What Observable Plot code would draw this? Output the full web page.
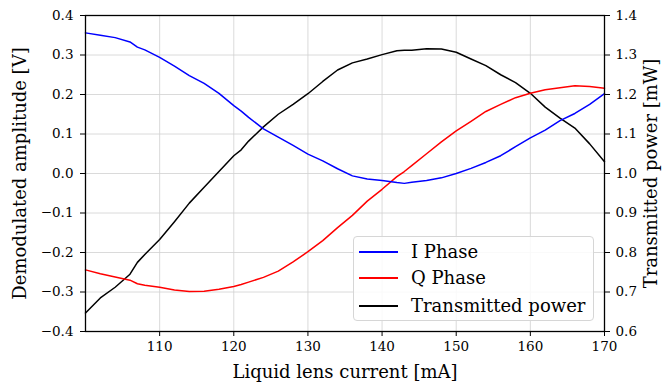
<!DOCTYPE html>
<html>
<head>
<meta charset="utf-8">
<script src="https://cdn.jsdelivr.net/npm/d3@7"></script>
<script src="https://cdn.jsdelivr.net/npm/@observablehq/plot@0.6"></script>
<style>
  body { margin: 0; background: #fff; }
  #wrap { position: relative; width: 662px; height: 385px; font-family: "DejaVu Serif", serif; }
  #legend { position: absolute; left: 353px; top: 236px; width: 241px; height: 85px;
    border: 1px solid #d6d6d6; border-radius: 4px; background: rgba(255,255,255,0.85); box-sizing: border-box; }
  .row { position: absolute; left: 0; width: 100%; height: 22px; font-size: 18px; line-height: 22px; color: #000; }
  .row .sw { position: absolute; left: 5px; top: 10px; width: 39px; height: 1.6px; }
  .row .lb { position: absolute; left: 57px; top: 0; white-space: nowrap; }
</style>
</head>
<body>
<div id="wrap"></div>
<script>
const current = [100,102,104,106,107,108,110,112,114,116,118,120,121,122,124,126,128,130,132,134,136,138,140,142,143,144,146,148,150,152,154,156,158,160,162,164,166,168,170];
const iPhase = [0.356,0.350,0.344,0.333,0.320,0.313,0.294,0.272,0.248,0.228,0.203,0.172,0.158,0.142,0.113,0.092,0.071,0.049,0.032,0.012,-0.006,-0.014,-0.018,-0.023,-0.025,-0.022,-0.018,-0.011,0.000,0.013,0.028,0.045,0.068,0.090,0.110,0.134,0.152,0.175,0.202];
const qPhase = [-0.244,-0.254,-0.262,-0.270,-0.279,-0.283,-0.288,-0.295,-0.299,-0.298,-0.293,-0.286,-0.281,-0.275,-0.263,-0.247,-0.224,-0.198,-0.170,-0.137,-0.106,-0.070,-0.040,-0.008,0.005,0.020,0.050,0.080,0.108,0.132,0.157,0.175,0.192,0.203,0.212,0.217,0.222,0.220,0.216];
const power = [0.647,0.685,0.712,0.745,0.775,0.795,0.833,0.878,0.925,0.965,1.005,1.045,1.060,1.082,1.118,1.150,1.175,1.202,1.233,1.262,1.280,1.290,1.301,1.311,1.312,1.312,1.316,1.315,1.307,1.290,1.273,1.250,1.230,1.203,1.168,1.140,1.115,1.075,1.030];

const xTicks = [110,120,130,140,150,160,170];
const yTicks = [-0.4,-0.3,-0.2,-0.1,0,0.1,0.2,0.3,0.4];
const y2Ticks = [0.6,0.7,0.8,0.9,1.0,1.1,1.2,1.3,1.4];
const y2Offset = 1.0; // right axis value = left value + offset
const seriesNames = ["I Phase","Q Phase","Transmitted power"];
const seriesColors = ["#0000ff","#ff0000","#000000"];
const xLabel = "Liquid lens current [mA]";
const yLabel = "Demodulated amplitude [V]";
const y2Label = "Transmitted power [mW]";

const fmt = d => d.toFixed(1).replace("-", "\u2212");
const iData = current.map((c, k) => ({c, v: iPhase[k]}));
const qData = current.map((c, k) => ({c, v: qPhase[k]}));
const pData = current.map((c, k) => ({c, v: power[k] - y2Offset}));

const chart = Plot.plot({
  width: 662, height: 385,
  marginLeft: 85, marginRight: 58, marginTop: 15, marginBottom: 54,
  style: {fontFamily: "DejaVu Serif", fontSize: "13.5px", color: "#000", background: "#fff"},
  x: {domain: [100, 170]},
  y: {domain: [-0.4, 0.4]},
  marks: [
    Plot.gridX(xTicks, {stroke: "#d0d0d0", strokeOpacity: 1, strokeWidth: 0.8}),
    Plot.gridY(yTicks, {stroke: "#d0d0d0", strokeOpacity: 1, strokeWidth: 0.8}),
    Plot.line(pData, {x: "c", y: "v", stroke: seriesColors[2], strokeWidth: 1.5}),
    Plot.line(qData, {x: "c", y: "v", stroke: seriesColors[1], strokeWidth: 1.5}),
    Plot.line(iData, {x: "c", y: "v", stroke: seriesColors[0], strokeWidth: 1.5}),
    Plot.axisX(xTicks, {tickSize: 5, tickPadding: 5, tickFormat: d => String(d), label: null, fontSize: 13.5}),
    Plot.axisY(yTicks, {anchor: "left", tickSize: 5, tickPadding: 7, tickFormat: fmt, label: null, fontSize: 13.5}),
    Plot.axisY(yTicks, {anchor: "right", tickSize: 5, tickPadding: 6, tickFormat: (d, k) => fmt(y2Ticks[k]), label: null, fontSize: 13.5}),
    Plot.frame({stroke: "#000", strokeWidth: 1.3}),
    Plot.text([xLabel], {frameAnchor: "bottom", dy: 41, lineAnchor: "middle", fontSize: 18}),
    Plot.text([yLabel], {frameAnchor: "left", dx: -65, rotate: -90, lineAnchor: "middle", textAnchor: "middle", fontSize: 18}),
    Plot.text([y2Label], {frameAnchor: "right", dx: 47, rotate: -90, lineAnchor: "middle", textAnchor: "middle", fontSize: 18})
  ]
});
const wrap = document.getElementById("wrap");
wrap.appendChild(chart);

const legend = document.createElement("div");
legend.id = "legend";
const rowTops = [4, 30, 58];
seriesNames.forEach((name, k) => {
  const row = document.createElement("div");
  row.className = "row";
  row.style.top = rowTops[k] + "px";
  const sw = document.createElement("div");
  sw.className = "sw";
  sw.style.backgroundColor = seriesColors[k];
  const lb = document.createElement("div");
  lb.className = "lb";
  lb.textContent = name;
  row.appendChild(sw); row.appendChild(lb);
  legend.appendChild(row);
});
wrap.appendChild(legend);
</script>
</body>
</html>
